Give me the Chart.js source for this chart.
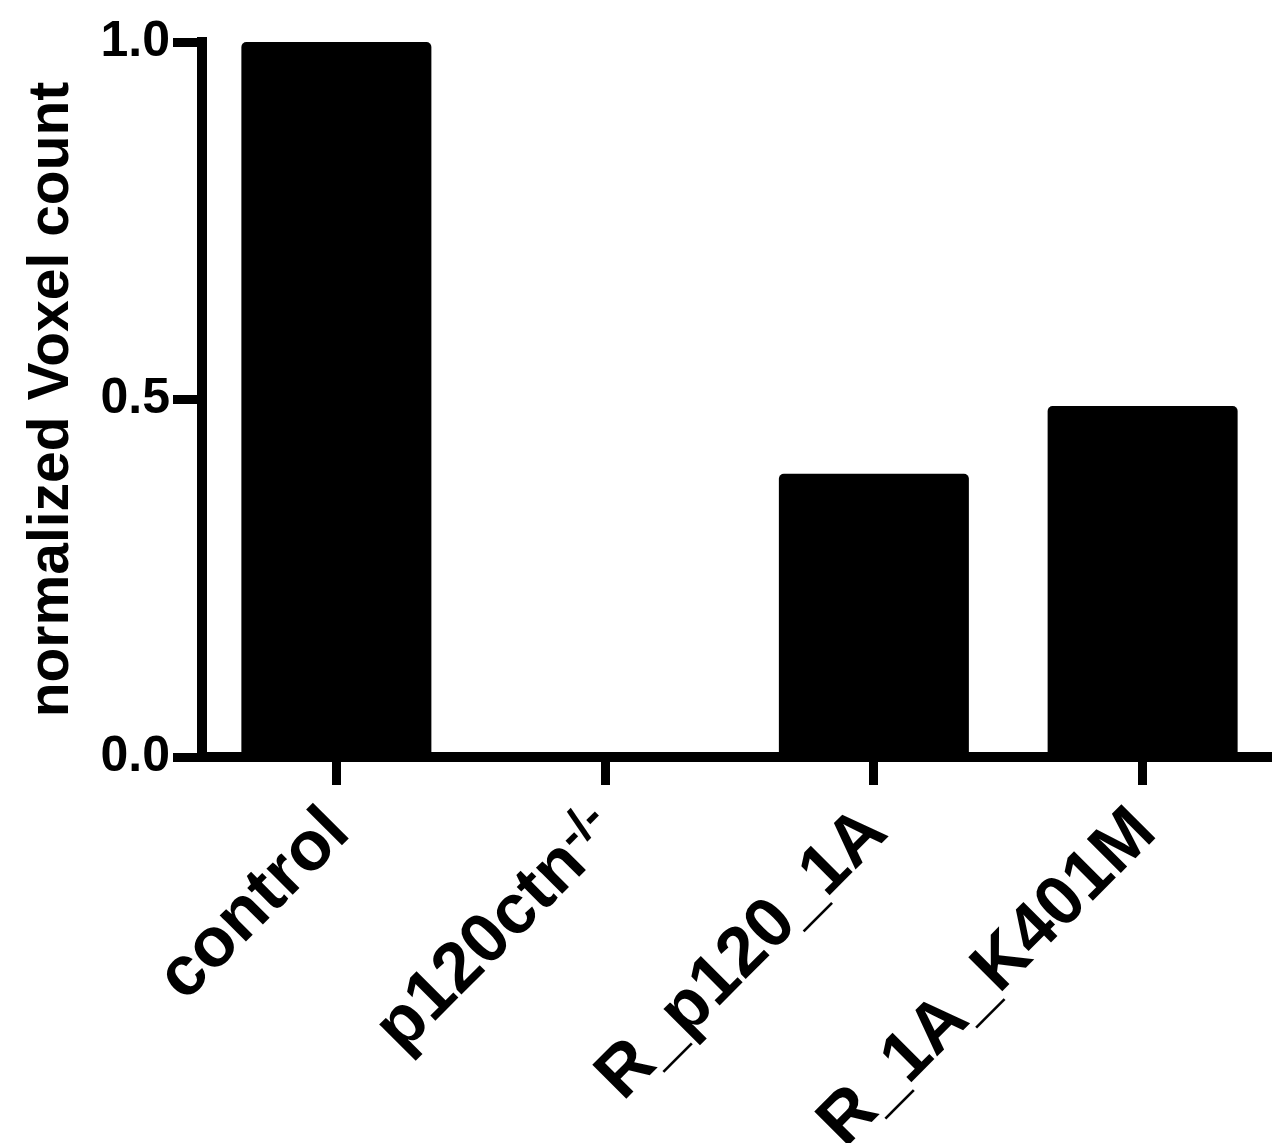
<!DOCTYPE html>
<html>
<head>
<meta charset="utf-8">
<script src="https://cdn.jsdelivr.net/npm/chart.js@4"></script>
<style>
html,body{margin:0;padding:0;background:#fff;overflow:hidden;}
#wrap{width:1277px;height:1143px;position:relative;}
</style>
</head>
<body>
<div id="wrap"><canvas id="c"></canvas></div>
<script>
const categories = ['control', 'p120ctn', 'R_p120_1A', 'R_1A_K401M'];
const superscripts = ['', '-/-', '', ''];
const values = [1.0, 0.0, 0.396, 0.491];
const yTicks = [0, 0.5, 1.0];
const yTitle = 'normalized Voxel count';

const FONT = '"Liberation Sans", Arial, Helvetica, sans-serif';

const xLabelPlugin = {
  id: 'xLabels',
  afterDraw(chart) {
    const ctx = chart.ctx;
    const xs = chart.scales.x;
    const base = chart.chartArea.bottom + 78;
    ctx.save();
    ctx.fillStyle = '#000';
    categories.forEach((lab, i) => {
      const px = xs.getPixelForTick(i) + 16;
      ctx.save();
      ctx.translate(px, base);
      ctx.rotate(-Math.PI / 4);
      ctx.textAlign = 'right';
      ctx.textBaseline = 'alphabetic';
      let end = 0;
      const sup = superscripts[i];
      if (sup) {
        ctx.font = 'bold 48px ' + FONT;
        ctx.fillText(sup, 0, -20);
        end = -ctx.measureText(sup).width;
      }
      ctx.font = 'bold 70px ' + FONT;
      ctx.fillText(lab, end, 0);
      ctx.restore();
    });
    ctx.restore();
  }
};

new Chart(document.getElementById('c'), {
  type: 'bar',
  data: {
    labels: categories,
    datasets: [{
      data: values,
      backgroundColor: '#000',
      borderColor: '#000',
      borderWidth: 0,
      borderRadius: {topLeft: 5, topRight: 5, bottomLeft: 0, bottomRight: 0},
      borderSkipped: 'start',
      barPercentage: 0.707,
      categoryPercentage: 1.0
    }]
  },
  options: {
    responsive: true,
    maintainAspectRatio: false,
    animation: false,
    devicePixelRatio: 1,
    layout: {padding: {top: 42, right: 0, bottom: 0, left: 0}},
    plugins: {legend: {display: false}, tooltip: {enabled: false}},
    scales: {
      x: {
        grid: {display: true, drawOnChartArea: false, drawTicks: true, tickLength: 28, lineWidth: 9, tickWidth: 9, tickColor: '#000', color: '#000', offset: false},
        border: {display: true, width: 10, color: '#000'},
        ticks: {display: false},
        afterFit(scale) { scale.height = 386; }
      },
      y: {
        min: 0, max: 1.0,
        afterBuildTicks(scale) { scale.ticks = yTicks.map(v => ({value: v})); },
        grid: {display: true, drawOnChartArea: false, drawTicks: true, tickLength: 29, lineWidth: 9, tickWidth: 9, tickColor: '#000', color: '#000'},
        border: {display: true, width: 10, color: '#000'},
        ticks: {
          padding: 3,
          color: '#000',
          font: {family: FONT, size: 50, weight: 'bold'},
          callback: v => Number(v).toFixed(1)
        },
        title: {
          display: true,
          text: yTitle,
          color: '#000',
          font: {family: FONT, size: 57, weight: 'bold'},
          padding: {top: 18, bottom: 0}
        },
        afterFit(scale) { scale.width = 202; }
      }
    }
  },
  plugins: [xLabelPlugin]
});
</script>
</body>
</html>
